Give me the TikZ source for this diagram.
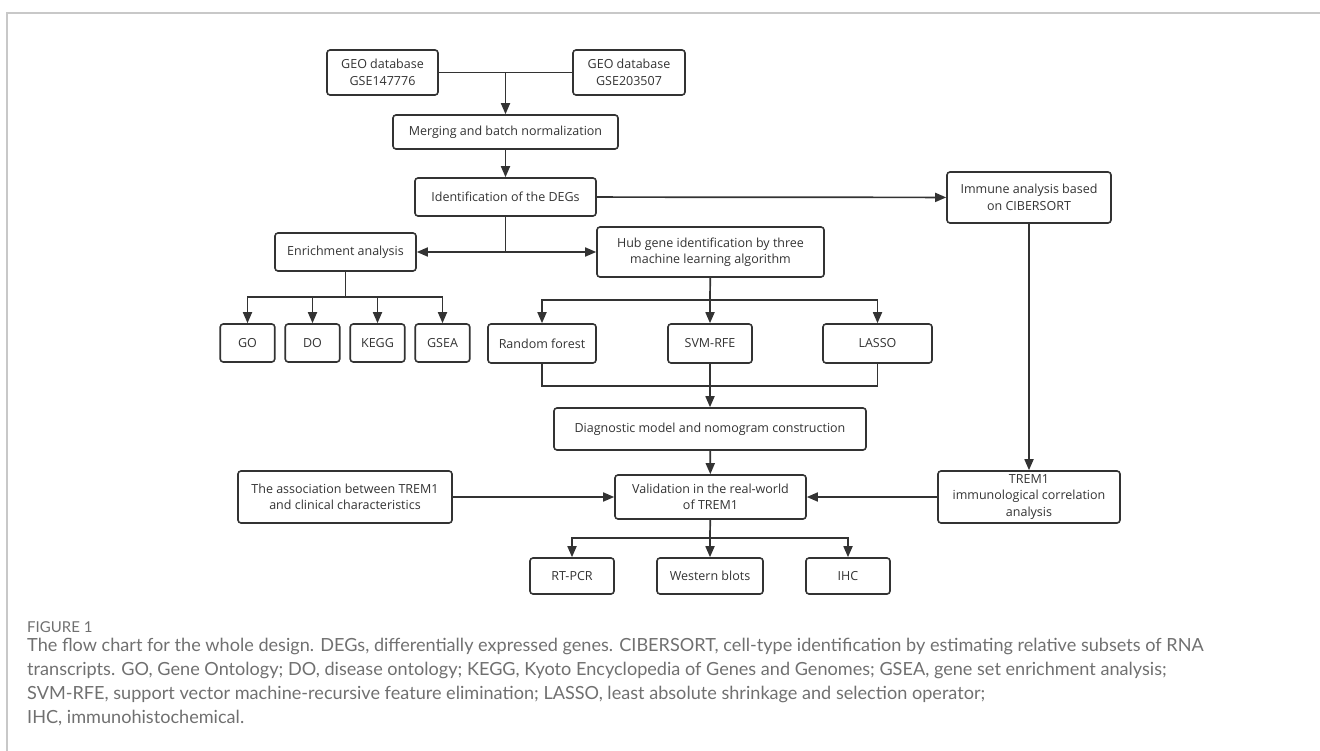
\documentclass[tikz,border=0pt]{standalone}
\usepackage{fontspec}
\setmainfont{Open Sans}
\newfontfamily\capfont{Lato}
\usepackage{tikz}
\usetikzlibrary{arrows.meta}
\definecolor{ink}{HTML}{333333}
\definecolor{capgray}{HTML}{707070}
\definecolor{framegray}{HTML}{C8C8C8}

\begin{document}
\begin{tikzpicture}[x=1pt, y=-1pt,
b/.style={draw=ink, rounded corners=3pt, line width=1.6pt, align=center, inner sep=0pt,
  text=ink, font=\fontsize{12.5}{16.5}\selectfont},
>={Triangle[length=11pt, width=9pt]},
c/.style={draw=ink, line width=1.7pt}]
\useasboundingbox (0,0) rectangle (1320,751);
\draw[framegray, line width=1.2pt] (7,751) -- (7,13) -- (1320,13);

\node[b, minimum width=111, minimum height=45] (geoa) at (382.5,72.5) {GEO database\\GSE147776};
\node[b, minimum width=112, minimum height=45] (geob) at (629,72.5) {GEO database\\GSE203507};
\node[b, minimum width=225, minimum height=34] (merge) at (505.5,132) {Merging and batch normalization};
\node[b, minimum width=181, minimum height=38] (degs) at (505.5,197) {Identification of the DEGs};
\node[b, minimum width=164, minimum height=51] (immune) at (1029,197.5) {Immune analysis based\\on CIBERSORT};
\node[b, minimum width=141, minimum height=38] (enrich) at (345.5,252) {Enrichment analysis};
\node[b, minimum width=227, minimum height=50] (hub) at (710.5,252) {Hub gene identification by three\\machine learning algorithm};
\node[b, minimum width=54.5, minimum height=38] (go) at (247.5,343) {GO};
\node[b, minimum width=54.5, minimum height=38] (do) at (312.5,343) {DO};
\node[b, minimum width=54.5, minimum height=38] (kegg) at (377.5,343) {KEGG};
\node[b, minimum width=54.5, minimum height=38] (gsea) at (442.5,343) {GSEA};
\node[b, minimum width=108, minimum height=39] (rf) at (542,343.5) {Random forest};
\node[b, minimum width=84, minimum height=39] (svm) at (710,343.5) {SVM-RFE};
\node[b, minimum width=109, minimum height=39] (lasso) at (877.5,343.5) {LASSO};
\node[b, minimum width=312, minimum height=42] (diag) at (710,429) {Diagnostic model and nomogram construction};
\node[b, minimum width=214, minimum height=52] (assoc) at (345,497) {The association between TREM1\\and clinical characteristics};
\node[b, minimum width=191, minimum height=44] (valid) at (710.5,497) {Validation in the real-world\\of TREM1};
\node[b, minimum width=182, minimum height=52] (trem) at (1029,497) {TREM1\\immunological correlation\\analysis};
\node[b, minimum width=84, minimum height=36] (rtpcr) at (572,576) {RT-PCR};
\node[b, minimum width=106, minimum height=36] (western) at (710,576) {Western blots};
\node[b, minimum width=84, minimum height=36] (ihc) at (848,576) {IHC};

\coordinate (jgeo) at (505.5,72.5);
\coordinate (jdeg) at (505.5,252);
\coordinate (jenr) at (345.5,297);
\coordinate (jhub) at (710,300);
\coordinate (jalg) at (710,386);
\coordinate (jval) at (710,538);

% merging the two datasets
\draw[c] (geoa) -- (geob);
\draw[c, ->] (jgeo) -- (merge);
\draw[c, ->] (merge) -- (degs);
\draw[c, ->] (degs) -- (immune);
\draw[c] (degs) -- (jdeg);
\draw[c, ->] (jdeg) -- (enrich);
\draw[c, ->] (jdeg) -- (hub);
% enrichment
\draw[c] (enrich) -- (jenr);
\draw[c, ->] (jenr) -| (go);
\draw[c, ->] (jenr) -| (do);
\draw[c, ->] (jenr) -| (kegg);
\draw[c, ->] (jenr) -| (gsea);
% machine learning
\draw[c] (hub) -- (jhub);
\draw[c, ->] (jhub) -| (rf);
\draw[c, ->] (jhub) -- (svm);
\draw[c, ->] (jhub) -| (lasso);
\draw[c] (rf) |- (jalg) -| (lasso);
\draw[c, ->] (svm) -- (diag);
\draw[c, ->] (diag) -- (valid);
\draw[c, ->] (assoc) -- (valid);
\draw[c, ->] (immune) -- (trem);
\draw[c, ->] (trem) -- (valid);
% validation
\draw[c] (valid) -- (jval);
\draw[c, ->] (jval) -| (rtpcr);
\draw[c, ->] (jval) -- (western);
\draw[c, ->] (jval) -| (ihc);

\node[anchor=west, inner sep=0pt, text=capgray, font=\capfont\fontsize{15}{17}\selectfont] (figlab) at (27,627) {FIGURE 1};
\node[anchor=north west, inner sep=0pt, align=left, text=capgray,
  font=\capfont\fontsize{18.1}{23.9}\selectfont] (caption) at (27,638)
  {The flow chart for the whole design. DEGs, differentially expressed genes. CIBERSORT, cell-type identification by estimating relative subsets of RNA\\
   transcripts. GO, Gene Ontology; DO, disease ontology; KEGG, Kyoto Encyclopedia of Genes and Genomes; GSEA, gene set enrichment analysis;\\
   SVM-RFE, support vector machine-recursive feature elimination; LASSO, least absolute shrinkage and selection operator;\\
   IHC, immunohistochemical.};
\end{tikzpicture}
\end{document}
